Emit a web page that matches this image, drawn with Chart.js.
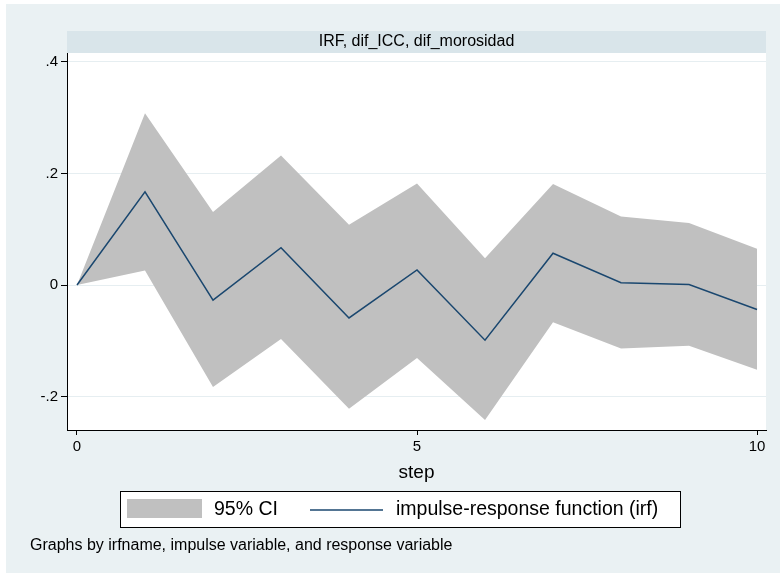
<!DOCTYPE html>
<html>
<head>
<meta charset="utf-8">
<script src="https://cdn.jsdelivr.net/npm/chart.js@4/dist/chart.umd.min.js"></script>
<style>
  html, body { margin: 0; padding: 0; background: #fff; overflow: hidden; }
  #wrap { width: 780px; height: 573px; }
  canvas { display: block; }
</style>
</head>
<body>
<div id="wrap"><canvas id="irf" width="780" height="573"></canvas></div>
<script>
const steps = [0, 1, 2, 3, 4, 5, 6, 7, 8, 9, 10];
const irf = [0, 0.167, -0.027, 0.067, -0.059, 0.027, -0.099, 0.057, 0.004, 0.001, -0.044];
const upperCI = [0, 0.308, 0.131, 0.232, 0.108, 0.182, 0.048, 0.181, 0.123, 0.111, 0.065];
const lowerCI = [0, 0.026, -0.183, -0.097, -0.222, -0.131, -0.242, -0.067, -0.114, -0.109, -0.152];
const yTicks = [-0.2, 0, 0.2, 0.4];
const xTicks = [0, 5, 10];

const FONT = '"Liberation Sans", Arial, sans-serif';
const BG = '#eaf1f3';
const STRIP = '#d9e5ea';
const GRID = '#e6eef1';
const CI_FILL = '#c0c0c0';
const LINE = '#1a476f';

const pts = (vals) => steps.map((s, i) => ({ x: s, y: vals[i] }));

const stataLabel = (v) => {
  if (v === 0) return '0';
  return String(Math.round(v * 10) / 10).replace('0.', '.');
};

// backgrounds, by-strip title, plot region
const stataFrame = {
  id: 'stataFrame',
  beforeDraw(chart) {
    const { ctx, chartArea: { left, right, top, bottom } } = chart;
    ctx.save();
    ctx.fillStyle = '#fff';
    ctx.fillRect(0, 0, 780, 573);
    ctx.fillStyle = BG;
    ctx.fillRect(6, 4, 774, 569);
    ctx.fillStyle = STRIP;
    ctx.fillRect(left, 31, right - left, top - 31);
    ctx.fillStyle = '#fff';
    ctx.fillRect(left, top, right - left, bottom - top);
    ctx.fillStyle = '#000';
    ctx.font = '16px ' + FONT;
    ctx.textAlign = 'center';
    ctx.textBaseline = 'middle';
    ctx.fillText('IRF, dif_ICC, dif_morosidad', (left + right) / 2, 42);
    ctx.restore();
  },
  afterDraw(chart) {
    const { ctx } = chart;
    const ds = chart.data.datasets;
    ctx.save();
    // legend box
    ctx.fillStyle = '#fff';
    ctx.fillRect(120, 491, 560, 36);
    ctx.strokeStyle = '#000';
    ctx.lineWidth = 1;
    ctx.strokeRect(120.5, 491.5, 560, 36);
    ctx.fillStyle = ds[1].backgroundColor;
    ctx.fillRect(127, 499, 75, 19);
    ctx.strokeStyle = ds[0].borderColor;
    ctx.lineWidth = 1.5;
    ctx.beginPath();
    ctx.moveTo(310, 510);
    ctx.lineTo(383, 510);
    ctx.stroke();
    ctx.fillStyle = '#000';
    ctx.font = '19.5px ' + FONT;
    ctx.textBaseline = 'middle';
    ctx.textAlign = 'left';
    ctx.fillText(ds[1].label, 214, 510);
    ctx.fillText(ds[0].label, 396, 510);
    // note
    ctx.font = '16px ' + FONT;
    ctx.fillText('Graphs by irfname, impulse variable, and response variable', 30, 546);
    ctx.restore();
  },
};

new Chart(document.getElementById('irf'), {
  type: 'line',
  data: {
    datasets: [
      {
        label: 'impulse-response function (irf)',
        data: pts(irf),
        borderColor: LINE,
        borderWidth: 1.5,
        pointRadius: 0,
        fill: false,
        order: 0,
      },
      {
        label: '95% CI',
        data: pts(upperCI),
        backgroundColor: CI_FILL,
        borderWidth: 0,
        pointRadius: 0,
        fill: '+1',
        order: 1,
      },
      {
        label: 'lower',
        data: pts(lowerCI),
        borderWidth: 0,
        pointRadius: 0,
        fill: false,
        order: 2,
      },
    ],
  },
  options: {
    responsive: false,
    animation: false,
    events: [],
    layout: {
      padding: { top: 53, right: 14, bottom: 89, left: 0 },
    },
    plugins: {
      legend: { display: false },
      tooltip: { enabled: false },
    },
    scales: {
      x: {
        type: 'linear',
        min: -0.147,
        max: 10.132,
        afterFit: (scale) => { scale.height = 54; },
        afterBuildTicks: (scale) => { scale.ticks = xTicks.map((v) => ({ value: v })); },
        ticks: {
          color: '#000',
          font: { family: FONT, size: 15 },
          padding: 3,
          maxRotation: 0,
        },
        grid: {
          drawOnChartArea: false,
          tickColor: '#000',
          tickLength: 5,
        },
        border: { display: true, color: '#000', width: 1 },
        title: {
          display: true,
          text: 'step',
          color: '#000',
          font: { family: FONT, size: 19 },
          padding: 0,
        },
      },
      y: {
        min: -0.26,
        max: 0.416,
        afterFit: (scale) => { scale.width = 67; },
        afterBuildTicks: (scale) => { scale.ticks = yTicks.map((v) => ({ value: v })); },
        ticks: {
          color: '#000',
          font: { family: FONT, size: 15 },
          padding: 3,
          callback: (value) => stataLabel(value),
        },
        grid: {
          color: GRID,
          lineWidth: 1,
          tickColor: '#000',
          tickLength: 6,
        },
        border: { display: true, color: '#000', width: 1 },
      },
    },
  },
  plugins: [stataFrame],
});
</script>
</body>
</html>
